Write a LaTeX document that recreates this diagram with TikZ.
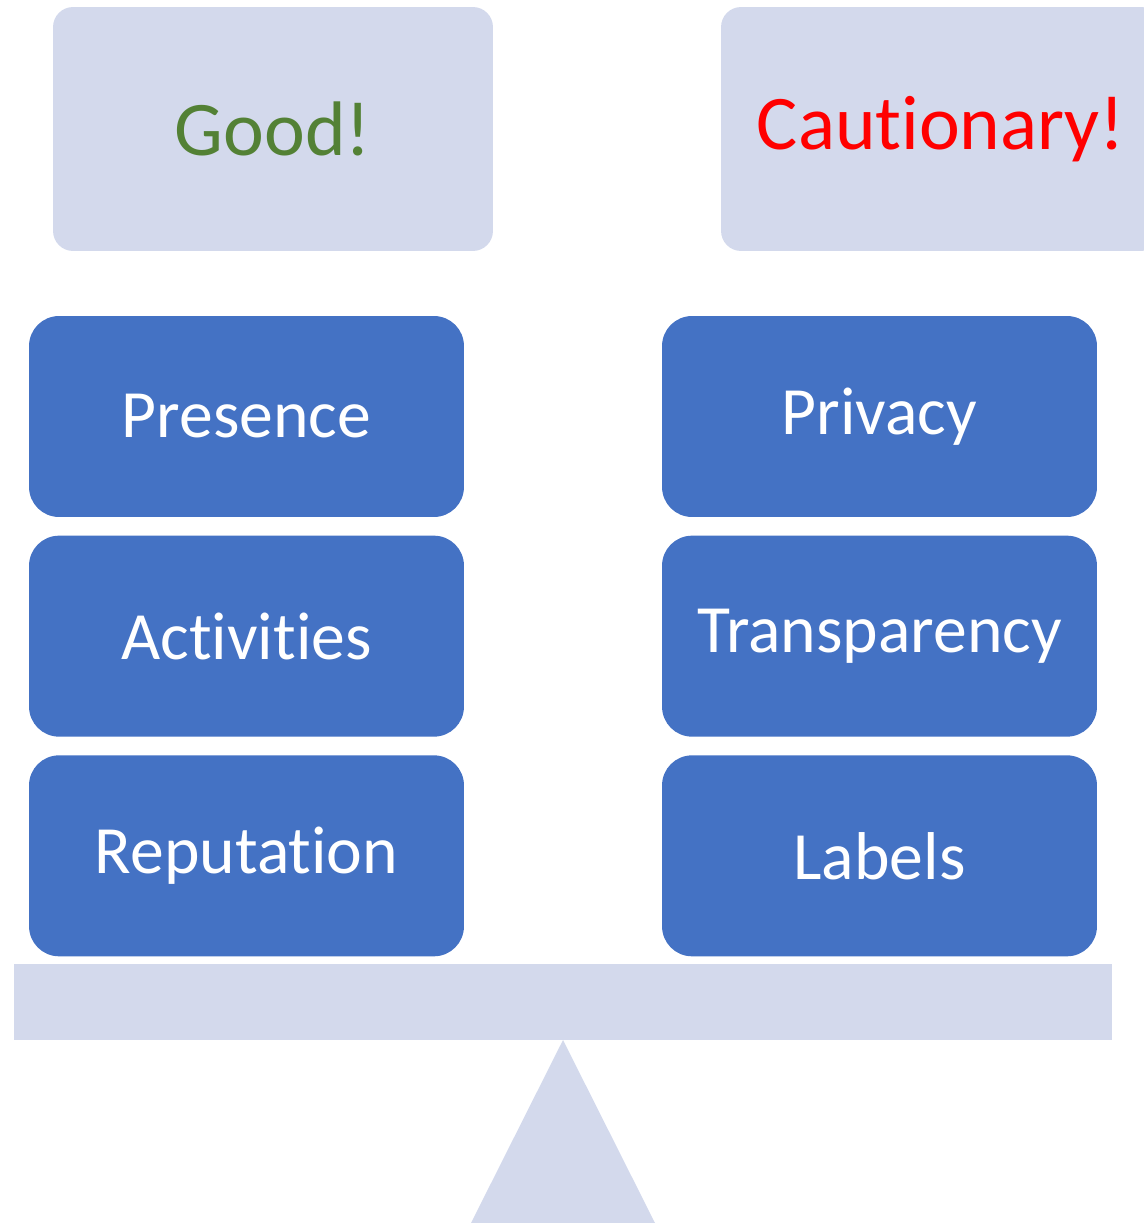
\documentclass[tikz,border=0pt]{standalone}
\usepackage{fontspec}
\setmainfont{Carlito}[Ligatures=NoCommon]
\usetikzlibrary{positioning}
\definecolor{paleblue}{HTML}{D3D9EC}
\definecolor{boxblue}{HTML}{4472C4}
\definecolor{goodgreen}{HTML}{538135}

\begin{document}
\begin{tikzpicture}[x=0.02cm,y=-0.02cm,
  head/.style={fill=paleblue,rounded corners=0.4cm,minimum width=8.8cm,minimum height=4.88cm,font=\fontsize{44}{52}\selectfont},
  item/.style={fill=boxblue,rounded corners=0.6cm,minimum width=8.7cm,minimum height=4.02cm,text=white,font=\fontsize{38.5}{46}\selectfont}]
  \useasboundingbox (0,0) rectangle (1143,1223);
  % Headings
  \node[head,text=goodgreen] (good) at (273,129) {Good!};
  \node[head,text=red] (caution) at (941,129) {Cautionary!};
  % Left pan
  \node[item] (presence) at (246.5,416.5) {Presence};
  \node[item,below=0.36cm of presence] (activities) {Activities};
  \node[item,below=0.36cm of activities] (reputation) {Reputation};
  % Right pan
  \node[item] (privacy) at (879.5,416.5) {Privacy};
  \node[item,below=0.36cm of privacy] (transparency) {Transparency};
  \node[item,below=0.36cm of transparency] (labels) {Labels};
  % Beam and pivot
  \fill[paleblue] (14,964) rectangle (1112,1040);
  \fill[paleblue] (563,1040) -- (655,1223) -- (471,1223) -- cycle;
\end{tikzpicture}
\end{document}
